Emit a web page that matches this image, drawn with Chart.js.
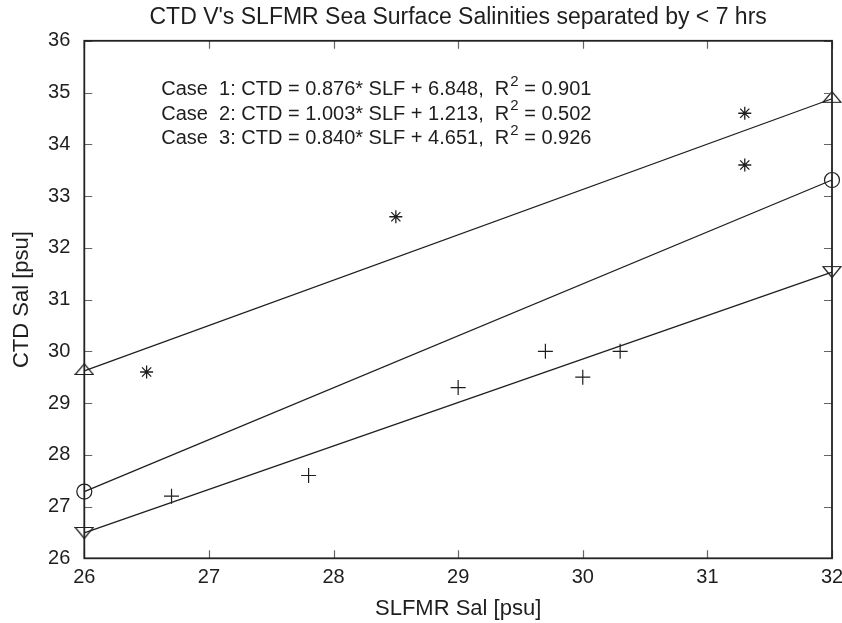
<!DOCTYPE html>
<html>
<head>
<meta charset="utf-8">
<title>CTD vs SLFMR salinity</title>
<script src="https://cdn.jsdelivr.net/npm/chart.js@4.4.0/dist/chart.umd.min.js"></script>
<style>
  html, body { margin: 0; padding: 0; background: #fff; }
  #wrap { width: 842px; height: 623px; }
</style>
</head>
<body>
<div id="wrap"><canvas id="salChart" width="842" height="623"></canvas></div>
<script>
// axis ticks
const xTicks = [26, 27, 28, 29, 30, 31, 32];
const yTicks = [26, 27, 28, 29, 30, 31, 32, 33, 34, 35, 36];

// observations drawn as asterisks
const starX = [26.5, 28.5, 31.3, 31.3];
const starY = [29.6, 32.6, 34.6, 33.6];

// observations drawn as crosses
const plusX = [26.7, 27.8, 29.0, 29.7, 30.0, 30.3];
const plusY = [27.2, 27.6, 29.3, 30.0, 29.5, 30.0];

// regression lines, end points
const fitX = [26, 32];
const fit1Y = [29.62, 34.88];
const fit2Y = [27.29, 33.31];
const fit3Y = [26.49, 31.53];

// regression text
const caseSlope = ['0.876', '1.003', '0.840'];
const caseIntercept = ['6.848', '1.213', '4.651'];
const caseR2 = ['0.901', '0.502', '0.926'];

const INK = '#1e1e1e';
const FONT = "'Liberation Sans', Arial, Helvetica, sans-serif";

const toPoints = (xs, ys) => xs.map((x, i) => ({ x: x, y: ys[i] }));

// small canvases used as point styles for the triangles
function makeTriangle(up) {
    const c = document.createElement('canvas');
    c.width = 20;
    c.height = 16;
    const g = c.getContext('2d');
    g.strokeStyle = INK;
    g.lineWidth = 1.2;
    g.beginPath();
    if (up) {
        g.moveTo(1, 11.5);
        g.lineTo(10, 0.8);
        g.lineTo(19, 11.5);
    } else {
        g.moveTo(1, 2.5);
        g.lineTo(10, 13.5);
        g.lineTo(19, 2.5);
    }
    g.closePath();
    g.stroke();
    return c;
}

const triUp = makeTriangle(true);
const triDown = makeTriangle(false);

// frame, inward ticks on all four sides and the regression text
const framePlugin = {
    id: 'frame',
    afterDatasetsDraw(chart) {
        const ctx = chart.ctx;
        const area = chart.chartArea;
        const xs = chart.scales.x;
        const ys = chart.scales.y;
        const len = 8;

        ctx.save();
        ctx.strokeStyle = '#666';
        ctx.lineWidth = 1.2;
        ctx.beginPath();
        xTicks.forEach(v => {
            const px = Math.round(xs.getPixelForValue(v)) + 0.5;
            ctx.moveTo(px, area.bottom);
            ctx.lineTo(px, area.bottom - len);
            ctx.moveTo(px, area.top);
            ctx.lineTo(px, area.top + len);
        });
        yTicks.forEach(v => {
            const py = Math.round(ys.getPixelForValue(v)) + 0.5;
            ctx.moveTo(area.left, py);
            ctx.lineTo(area.left + len, py);
            ctx.moveTo(area.right, py);
            ctx.lineTo(area.right - len, py);
        });
        ctx.stroke();

        ctx.strokeStyle = '#222';
        ctx.lineWidth = 1.8;
        ctx.strokeRect(area.left, area.top, area.right - area.left, area.bottom - area.top);

        // regression text
        ctx.fillStyle = INK;
        ctx.textBaseline = 'middle';
        ctx.textAlign = 'left';
        const tx = area.left + 77;
        caseSlope.forEach((s, i) => {
            const ty = area.top + 49 + i * 24.5;
            const head = 'Case  ' + (i + 1) + ': CTD = ' + s + '* SLF + ' + caseIntercept[i] + ',  R';
            ctx.font = '20px ' + FONT;
            ctx.fillText(head, tx, ty);
            let w = ctx.measureText(head).width;
            ctx.font = '15px ' + FONT;
            ctx.fillText('2', tx + w + 1, ty - 8);
            w += ctx.measureText('2').width + 1;
            ctx.font = '20px ' + FONT;
            ctx.fillText(' = ' + caseR2[i], tx + w, ty);
        });
        ctx.restore();
    }
};

const lineSet = (ys, style) => ({
    type: 'scatter',
    data: toPoints(fitX, ys),
    showLine: true,
    borderColor: INK,
    borderWidth: 1.3,
    backgroundColor: 'rgba(0,0,0,0)',
    pointStyle: style,
    pointRadius: 7.5,
    pointBorderWidth: 1.2,
    pointBorderColor: INK,
    pointBackgroundColor: 'rgba(0,0,0,0)',
    clip: false
});

new Chart(document.getElementById('salChart'), {
    type: 'scatter',
    data: {
        datasets: [
            lineSet(fit1Y, triUp),
            lineSet(fit2Y, 'circle'),
            lineSet(fit3Y, triDown),
            {
                data: toPoints(starX, starY),
                pointStyle: 'star',
                pointRadius: 6.5,
                borderColor: INK,
                borderWidth: 1.3,
                backgroundColor: INK
            },
            {
                data: toPoints(plusX, plusY),
                pointStyle: 'cross',
                pointRadius: 7.5,
                borderColor: INK,
                borderWidth: 1.2,
                backgroundColor: INK
            }
        ]
    },
    options: {
        responsive: false,
        animation: false,
        devicePixelRatio: 1,
        layout: { padding: { left: 0, right: 10, top: 0, bottom: 0 } },
        plugins: {
            legend: { display: false },
            tooltip: { enabled: false },
            title: {
                display: true,
                fullSize: false,
                text: "CTD V's SLFMR Sea Surface Salinities separated by < 7 hrs",
                color: INK,
                font: { family: FONT, size: 23, weight: 'normal' },
                padding: { top: 4, bottom: 9.2 }
            }
        },
        scales: {
            x: {
                type: 'linear',
                min: 26,
                max: 32,
                afterBuildTicks: s => { s.ticks = xTicks.map(v => ({ value: v })); },
                afterFit: s => { s.height = 64.7; s.paddingLeft = 0; s.paddingRight = 0; },
                grid: { display: false, drawTicks: false },
                border: { display: false },
                ticks: {
                    color: INK,
                    padding: 7,
                    maxRotation: 0,
                    autoSkip: false,
                    font: { family: FONT, size: 20 }
                },
                title: {
                    display: true,
                    text: 'SLFMR Sal [psu]',
                    color: INK,
                    font: { family: FONT, size: 22 },
                    padding: { top: 0, bottom: 1 }
                }
            },
            y: {
                type: 'linear',
                min: 26,
                max: 36,
                afterBuildTicks: s => { s.ticks = yTicks.map(v => ({ value: v })); },
                afterFit: s => { s.width = 84.3; s.paddingTop = 0; s.paddingBottom = 0; },
                grid: { display: false, drawTicks: false },
                border: { display: false },
                ticks: {
                    color: INK,
                    padding: 14,
                    autoSkip: false,
                    font: { family: FONT, size: 20 }
                },
                title: {
                    display: true,
                    text: 'CTD Sal [psu]',
                    color: INK,
                    font: { family: FONT, size: 22 },
                    padding: { top: 9, bottom: 0 }
                }
            }
        }
    },
    plugins: [framePlugin]
});
</script>
</body>
</html>
